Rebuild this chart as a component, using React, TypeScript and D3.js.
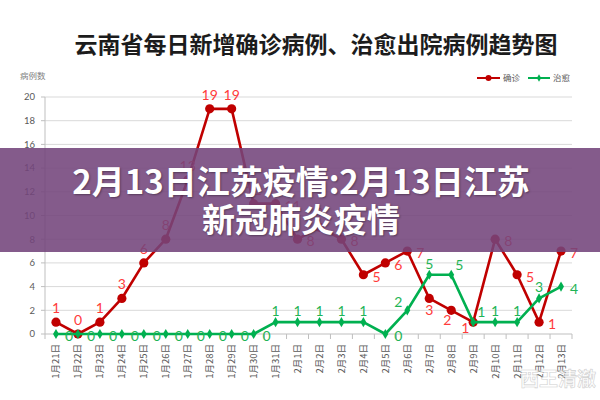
import React from "react";
import * as d3 from "d3";

const dates = [
  "1月21日", "1月22日", "1月23日", "1月24日", "1月25日", "1月26日", "1月27日", "1月28日",
  "1月29日", "1月30日", "1月31日", "2月1日", "2月2日", "2月3日", "2月4日", "2月5日",
  "2月6日", "2月7日", "2月8日", "2月9日", "2月10日", "2月11日", "2月12日", "2月13日",
];
const confirmed = [1, 0, 1, 3, 6, 8, 13, 19, 19, 11, 11, 8, 9, 8, 5, 6, 7, 3, 2, 1, 8, 5, 1, 7];
const cured = [0, 0, 0, 0, 0, 0, 0, 0, 0, 0, 1, 1, 1, 1, 1, 0, 2, 5, 5, 1, 1, 1, 3, 4];
const confirmedLabelPos = ["a", "a", "a", "a", "a", "a", "a", "a", "a", "a", "r", "r", "a", "r", "r", "r", "r", "b", "bl", "l", "r", "r", "r", "r"];
const curedLabelPos = ["r", "r", "r", "r", "r", "r", "r", "r", "r", "r", "a", "a", "a", "a", "a", "r", "al", "a", "ar", "ar", "a", "a", "a", "r"];
const yTicks = [0, 2, 4, 6, 8, 10, 12, 14, 16, 18, 20];
const seriesNames = ["确诊", "治愈"];
const title = "云南省每日新增确诊病例、治愈出院病例趋势图";
const yLabel = "病例数";
const bannerLines = ["2月13日江苏疫情:2月13日江苏", "新冠肺炎疫情"];
const watermark = "西王清澈";

const W = 600, H = 400;
const RED = "#C00000", RED_LABEL = "#FF3B3B", GREEN = "#00B050", GREEN_LABEL = "#1FB456";
const CJK = "'Noto Sans CJK SC', 'Noto Sans', sans-serif";
const NUM = "Lato, 'Liberation Sans', sans-serif";

const x = d3.scaleBand<string>().domain(dates).range([45, 572]);
const y = d3.scaleLinear().domain([0, 20]).range([334, 97]);
const cx = (d: string) => (x(d) as number) + x.bandwidth() / 2;

const offsets: Record<string, { dx: number; dy: number; anchor: string }> = {
  a: { dx: 0, dy: -14, anchor: "middle" },
  r: { dx: 9, dy: 2, anchor: "start" },
  b: { dx: 0, dy: 12, anchor: "middle" },
  bl: { dx: -4, dy: 10, anchor: "middle" },
  l: { dx: -8, dy: 6, anchor: "middle" },
  al: { dx: -9, dy: -8, anchor: "middle" },
  ar: { dx: 8, dy: -10, anchor: "middle" },
};

export default function App() {
  const line = d3.line<number>().x((_, i) => cx(dates[i])).y((v) => y(v));
  const diamond = d3.symbol().type(d3.symbolDiamond).size(30)() as string;

  return (
    <svg width={W} height={H} style={{ position: "absolute", left: 0, top: 0, background: "#fff" }}>
      <rect x={0} y={0} width={W} height={H} fill="#fff" />
      <text x={316} y={53} textAnchor="middle" fontFamily={CJK} fontWeight={700} fontSize={23} fill="#1c1c1c">
        {title}
      </text>
      <text x={20} y={79} fontFamily={CJK} fontSize={8.5} fill="#7f7f7f">{yLabel}</text>

      {yTicks.map((t) => (
        <g key={t}>
          {t > 0 && <line x1={45} x2={572} y1={y(t)} y2={y(t)} stroke="#D9D9D9" strokeWidth={1} />}
          <line x1={41} x2={45} y1={y(t)} y2={y(t)} stroke="#BFBFBF" />
          <text x={35} y={y(t)} dy="0.35em" textAnchor="end" fontFamily={NUM} fontSize={9.5} fill="#595959">
            {t}
          </text>
        </g>
      ))}
      <line x1={45} x2={45} y1={97} y2={334} stroke="#BFBFBF" />
      <line x1={45} x2={572} y1={334} y2={334} stroke="#BFBFBF" />
      {dates.map((d, i) => (
        <line key={"t" + i} x1={(x(d) as number) + x.bandwidth()} x2={(x(d) as number) + x.bandwidth()} y1={334} y2={339} stroke="#BFBFBF" />
      ))}
      <line x1={45} x2={45} y1={334} y2={339} stroke="#BFBFBF" />
      {dates.map((d) => (
        <text key={"xl" + d} transform={`translate(${cx(d) + 3.5},344) rotate(-90)`} textAnchor="end"
          fontFamily={CJK} fontSize={9.5} fill="#595959">
          {d}
        </text>
      ))}

      <line x1={477} x2={500} y1={78} y2={78} stroke={RED} strokeWidth={2} />
      <circle cx={488.5} cy={78} r={3} fill={RED} />
      <text x={503} y={78} dy="0.35em" fontFamily={CJK} fontSize={8.5} fill="#595959">{seriesNames[0]}</text>
      <line x1={528} x2={550} y1={78} y2={78} stroke={GREEN} strokeWidth={2} />
      <path d={d3.symbol().type(d3.symbolDiamond).size(16)() as string} transform="translate(539,78)" fill={GREEN} />
      <text x={553} y={78} dy="0.35em" fontFamily={CJK} fontSize={8.5} fill="#595959">{seriesNames[1]}</text>

      <path d={line(confirmed) as string} fill="none" stroke={RED} strokeWidth={2.6} strokeLinejoin="round" />
      {confirmed.map((v, i) => (
        <circle key={"rc" + i} cx={cx(dates[i])} cy={y(v)} r={4.6} fill={RED} />
      ))}
      <path d={line(cured) as string} fill="none" stroke={GREEN} strokeWidth={2.6} strokeLinejoin="round" />
      {cured.map((v, i) => (
        <path key={"gd" + i} d={diamond} transform={`translate(${cx(dates[i])},${y(v)})`} fill={GREEN} />
      ))}
      {confirmed.map((v, i) => {
        const o = offsets[confirmedLabelPos[i]];
        return (
          <text key={"rl" + i} x={cx(dates[i]) + o.dx} y={y(v) + o.dy} dy="0.35em" textAnchor={o.anchor}
            fontFamily={NUM} fontSize={14} fill={RED_LABEL}>
            {v}
          </text>
        );
      })}
      {cured.map((v, i) => {
        const o = offsets[curedLabelPos[i]];
        const dy = curedLabelPos[i] === "a" ? o.dy + 3 : o.dy;
        return (
          <text key={"gl" + i} x={cx(dates[i]) + o.dx} y={y(v) + dy} dy="0.35em" textAnchor={o.anchor}
            fontFamily={NUM} fontSize={14} fill={GREEN_LABEL}>
            {v}
          </text>
        );
      })}

      <rect x={0} y={148} width={W} height={104} fill="#73447B" opacity={0.88} />
      {bannerLines.map((t, i) => (
        <text key={"b" + i} x={301} y={194 + i * 38} textAnchor="middle" fontFamily={CJK} fontWeight={700}
          fontSize={33} fill="#fff" style={{ textShadow: "1px 1px 2px rgba(0,0,0,0.35)" }}>
          {t}
        </text>
      ))}

      <text x={520} y={386} fontFamily={CJK} fontWeight={700} fontSize={19} fill="#fff" opacity={0.85}
        stroke="#c8c8c8" strokeWidth={0.6}>
        {watermark}
      </text>
    </svg>
  );
}
